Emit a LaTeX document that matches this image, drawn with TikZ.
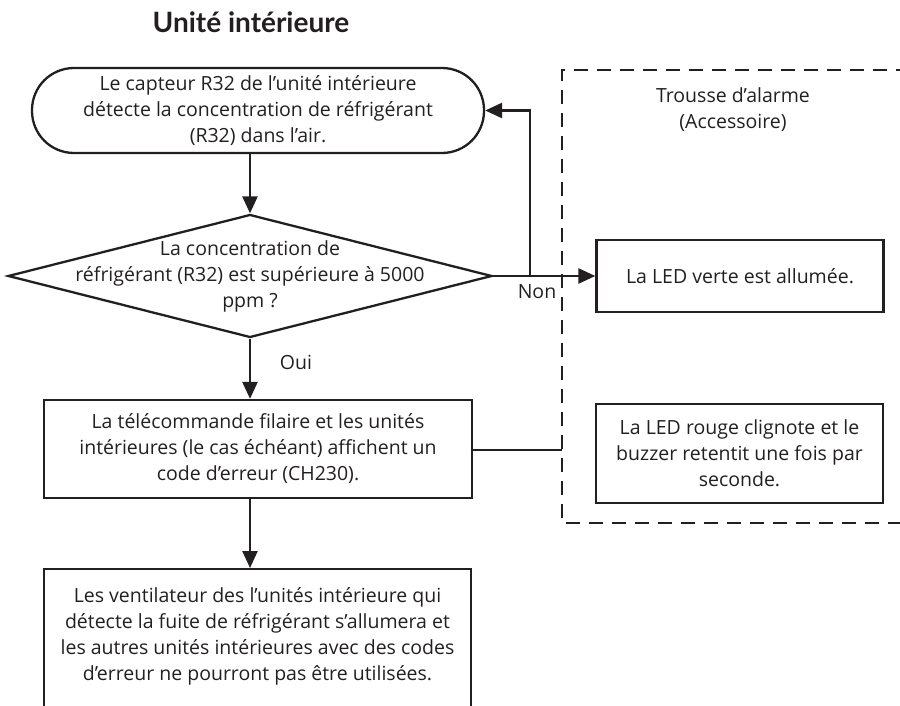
\documentclass[tikz,border=0pt]{standalone}
\usepackage{fontspec}
\setmainfont[Ligatures=NoCommon]{Open Sans}
\newfontfamily\titlefont[Ligatures=NoCommon]{Lato}
\usetikzlibrary{arrows.meta,shapes.geometric}
\definecolor{ink}{HTML}{231F20}
\tikzset{
  body/.style={font=\fontsize{19.5}{26}\selectfont, text=ink, align=center},
  frame/.style={draw=ink, line width=2.3pt},
  conn/.style={draw=ink, line width=2.5pt},
  arr/.style={conn, -{Triangle[length=17pt,width=15pt]}},
}
\begin{document}
\begin{tikzpicture}[x=1pt,y=-1pt]
\useasboundingbox (0,0) rectangle (900,706);
\clip (0,0) rectangle (900,706);
\node[font=\titlefont\bfseries\fontsize{28}{30}\selectfont, text=ink] (title) at (251,22) {Unité intérieure};
% start
\node[frame, body, rectangle, rounded corners=42pt, minimum width=452pt, minimum height=85pt, inner sep=0pt] (start) at (258,110.5)
  {Le capteur R32 de l’unité intérieure\\détecte la concentration de réfrigérant\\(R32) dans l’air.};
% decision
\node[frame, diamond, minimum width=484pt, minimum height=123pt, inner sep=0pt] (dia) at (250,276) {};
\node[body] (diatext) at (250,276) {La concentration de\\réfrigérant (R32) est supérieure à 5000\\ppm ?};
% box 2
\node[frame, body, rectangle, minimum width=428pt, minimum height=98pt, inner sep=0pt] (box2) at (258,449)
  {La télécommande filaire et les unités\\intérieures (le cas échéant) affichent un\\code d’erreur (CH230).};
% box 4
\node[frame, rectangle, minimum width=427pt, minimum height=200pt, inner sep=0pt, anchor=north] (box4) at (257.5,568) {};
\node[body] (box4text) at (257.5,636) {Les ventilateur des l’unités intérieure qui\\détecte la fuite de réfrigérant s’allumera et\\les autres unités intérieures avec des codes\\d’erreur ne pourront pas être utilisées.};
% alarm kit
\draw[ink, line width=2.3pt, dash pattern=on 14pt off 9pt] (910,70) -- (562,70) -- (562,523) -- (910,523);
\node[body] (kit) at (733,110) {Trousse d’alarme\\(Accessoire)};
\node[frame, body, rectangle, minimum width=287pt, minimum height=72pt, inner sep=0pt] (green) at (740,276) {La LED verte est allumée.};
\node[frame, body, rectangle, minimum width=287pt, minimum height=99pt, inner sep=0pt] (red) at (739.5,453.5)
  {La LED rouge clignote et le\\buzzer retentit une fois par\\seconde.};
% connectors
\coordinate (jn) at (530,276);
\coordinate (dl) at (562,450);
\draw[arr] (dia.north |- start.south) -- (dia.north);
\draw[arr] (dia.east) -- (green.west);
\draw[arr] (jn) |- (start.east);
\node[body] (non) at (537,292) {Non};
\draw[arr] (dia.south) -- (dia.south |- box2.north);
\node[body] (oui) at (296,362) {Oui};
\draw[conn] (box2.east |- dl) -- (dl);
\draw[arr] (dia.south |- box2.south) -- (dia.south |- box4.north);
\end{tikzpicture}
\end{document}
